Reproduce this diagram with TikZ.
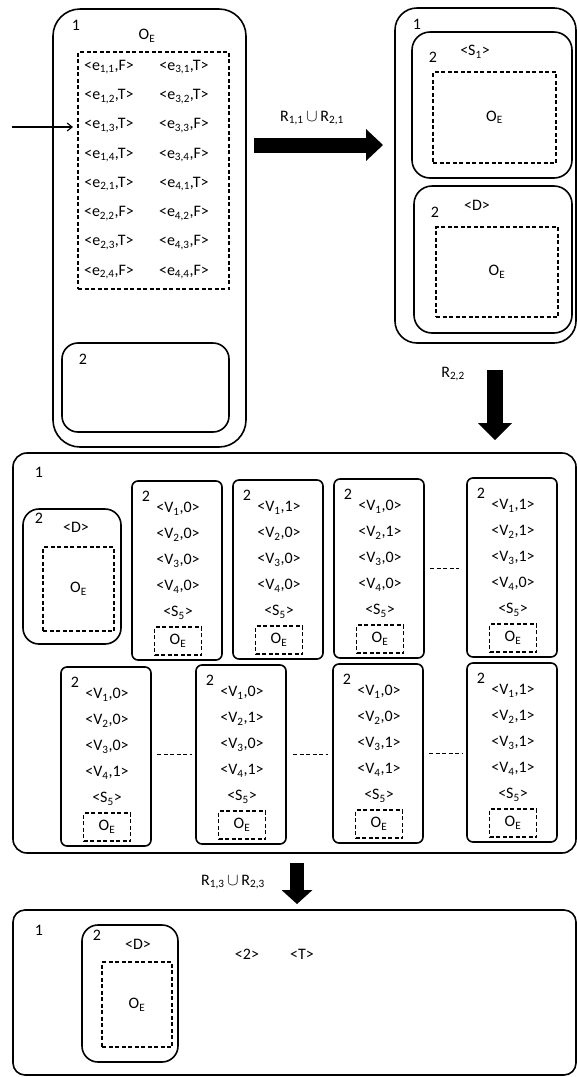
\documentclass[tikz,border=0pt]{standalone}
\usepackage{fontspec}
\setmainfont{Carlito}
\usetikzlibrary{arrows.meta}
\newcommand\OEx{O\textsubscript{E}}
\newcommand\sbs[1]{\textsubscript{#1}}
\newcommand\uni{\,{\fontsize{18}{18}\selectfont$\cup$}\,}
% rounded solid box: name, x1, y1, x2, y2, radius
\newcommand\rbox[6]{\node[solidbox, rounded corners=#6, minimum width={#4-#2}, minimum height={#5-#3}] (#1) at ({(#2+#4)/2},{(#3+#5)/2}) {};}
% dashed box: name, x1, y1, x2, y2, text
\newcommand\dbox[6]{\node[dashbox, minimum width={#4-#2}, minimum height={#5-#3}] (#1) at ({(#2+#4)/2},{(#3+#5)/2}) {#6};}
% value card: name, x1, y1, v1, v2, v3, v4
\newcommand\vcard[7]{%
  \node[solidbox, rounded corners=6pt, minimum width=90, minimum height=179] (#1) at ({#2+45},{#3+89.5}) {};
  \node[txt] (#1n) at ({#2+14},{#3+15}) {2};
  \node[txt] (#1a) at ({#2+46},{#3+28}) {<V\sbs{1},#4>};
  \node[txt] (#1b) at ({#2+46},{#3+54}) {<V\sbs{2},#5>};
  \node[txt] (#1c) at ({#2+46},{#3+80}) {<V\sbs{3},#6>};
  \node[txt] (#1d) at ({#2+46},{#3+106}) {<V\sbs{4},#7>};
  \node[txt] (#1s) at ({#2+46},{#3+132}) {<S\sbs{5}>};
  \node[dashbox, minimum width=47, minimum height=28] (#1o) at ({#2+46},{#3+160}) {\OEx};
}
\begin{document}
\begin{tikzpicture}[x=1pt, y=-1pt,
  font=\fontsize{16}{19}\selectfont,
  solidbox/.style={draw, line width=1.6pt, inner sep=0pt, outer sep=0pt},
  dashbox/.style={draw, line width=1.4pt, dash pattern=on 4pt off 2.5pt, inner sep=0pt, outer sep=0pt},
  txt/.style={inner sep=0pt},
  dashline/.style={line width=1.4pt, dash pattern=on 4pt off 2.5pt},
  thinarrow/.style={line width=1.1pt, -{Straight Barb[length=5pt,width=8pt]}},
  fatright/.style={line width=15pt, -{Triangle[length=17pt,width=32pt,line width=0pt]}},
  fatdown/.style={line width=16pt, -{Triangle[length=17pt,width=34pt,line width=0pt]}},
  fatdownb/.style={line width=14pt, -{Triangle[length=14pt,width=31pt,line width=0pt]}}]
\useasboundingbox (0,0) rectangle (577,1077);

% ---------- top-left stage ----------
\rbox{s1}{53}{9}{246}{447}{27pt}
\node[txt] (s1n) at (76,25) {1};
\node[txt] (s1t) at (147,36) {\OEx};
\dbox{s1d}{78}{52}{229}{289}{}
\foreach \a/\b/\c/\d [count=\i] in {{1,1}/F/{3,1}/T, {1,2}/T/{3,2}/T, {1,3}/T/{3,3}/F, {1,4}/T/{3,4}/F,
                                    {2,1}/T/{4,1}/T, {2,2}/F/{4,2}/F, {2,3}/T/{4,3}/F, {2,4}/F/{4,4}/F} {
  \pgfmathsetmacro\yy{67+(\i-1)*29.3}
  \node[txt] (el\i) at (109,\yy) {<e\sbs{\a},\b>};
  \node[txt] (er\i) at (184,\yy) {<e\sbs{\c},\d>};
}
\rbox{s1b}{62}{343}{229}{432}{16pt}
\node[txt] (s1bn) at (83,359) {2};
\coordinate (inarrow) at (12,127);
\draw[thinarrow, shorten >=5pt] (inarrow) -- (inarrow -| s1d.west);

% ---------- arrow 1 ----------
\coordinate (r1s) at (254,145);
\coordinate (r1e) at (383,145);
\draw[fatright] (r1s) -- (r1e);
\node[txt] (r1l) at (312,118) {R\sbs{1,1}\uni R\sbs{2,1}};

% ---------- top-right stage ----------
\rbox{s2}{395}{8}{576}{343}{22pt}
\node[txt] (s2n) at (417,24) {1};
\rbox{s2a}{412}{32}{572}{178}{18pt}
\node[txt] (s2an) at (433,57) {2};
\node[txt] (s2at) at (475,52) {<S\sbs{1}>};
\dbox{s2ad}{433}{72}{556}{163}{\OEx}
\rbox{s2b}{414}{186}{572}{333}{18pt}
\node[txt] (s2bn) at (435,212) {2};
\node[txt] (s2bt) at (477,205) {<D>};
\dbox{s2bd}{436}{227}{558}{317}{\OEx}

% ---------- arrow 2 ----------
\coordinate (r2s) at (495,370);
\coordinate (r2e) at (495,440);
\draw[fatdown] (r2s) -- (r2e);
\node[txt] (r2l) at (453,374) {R\sbs{2,2}};

% ---------- middle stage ----------
\rbox{s3}{13}{453}{576}{853}{14pt}
\node[txt] (s3n) at (39,472) {1};
\rbox{s3d}{23}{509}{121}{644}{16pt}
\node[txt] (s3dn) at (39,518) {2};
\node[txt] (s3dt) at (76,527) {<D>};
\dbox{s3dd}{43}{547}{114}{631}{\OEx}

\vcard{ca}{132}{481}{0}{0}{0}{0}
\vcard{cb}{233}{480}{1}{0}{0}{0}
\vcard{cc}{334}{479}{0}{1}{0}{0}
\vcard{ce}{467}{478}{1}{1}{1}{0}
\draw[dashline, shorten <=6pt, shorten >=8pt] (cc.east) -- (cc.east -| ce.west);

\vcard{cf}{61}{667}{0}{0}{0}{1}
\vcard{cg}{196}{665}{0}{1}{0}{1}
\vcard{ch}{333}{664}{0}{0}{1}{1}
\vcard{ci}{467}{663}{1}{1}{1}{1}
\draw[dashline, shorten <=6pt, shorten >=4pt] (cf.east |- cg.west) -- (cg.west);
\draw[dashline, shorten <=7pt, shorten >=5pt] (cg.east) -- (cg.east -| ch.west);
\draw[dashline, shorten <=6pt, shorten >=5pt] (ch.east) -- (ch.east -| ci.west);

% ---------- arrow 3 ----------
\coordinate (r3s) at (297,863);
\coordinate (r3e) at (297,904);
\draw[fatdownb] (r3s) -- (r3e);
\node[txt] (r3l) at (233,882) {R\sbs{1,3}\uni R\sbs{2,3}};

% ---------- bottom stage ----------
\rbox{s4}{13}{910}{576}{1075}{12pt}
\node[txt] (s4n) at (39,930) {1};
\rbox{s4d}{82}{925}{178}{1062}{16pt}
\node[txt] (s4dn) at (97,935) {2};
\node[txt] (s4dt) at (138,944) {<D>};
\dbox{s4dd}{102}{962}{172}{1047}{\OEx}
\node[txt] (s4two) at (247,954) {<2>};
\node[txt] (s4t) at (302,954) {<T>};
\end{tikzpicture}
\end{document}
